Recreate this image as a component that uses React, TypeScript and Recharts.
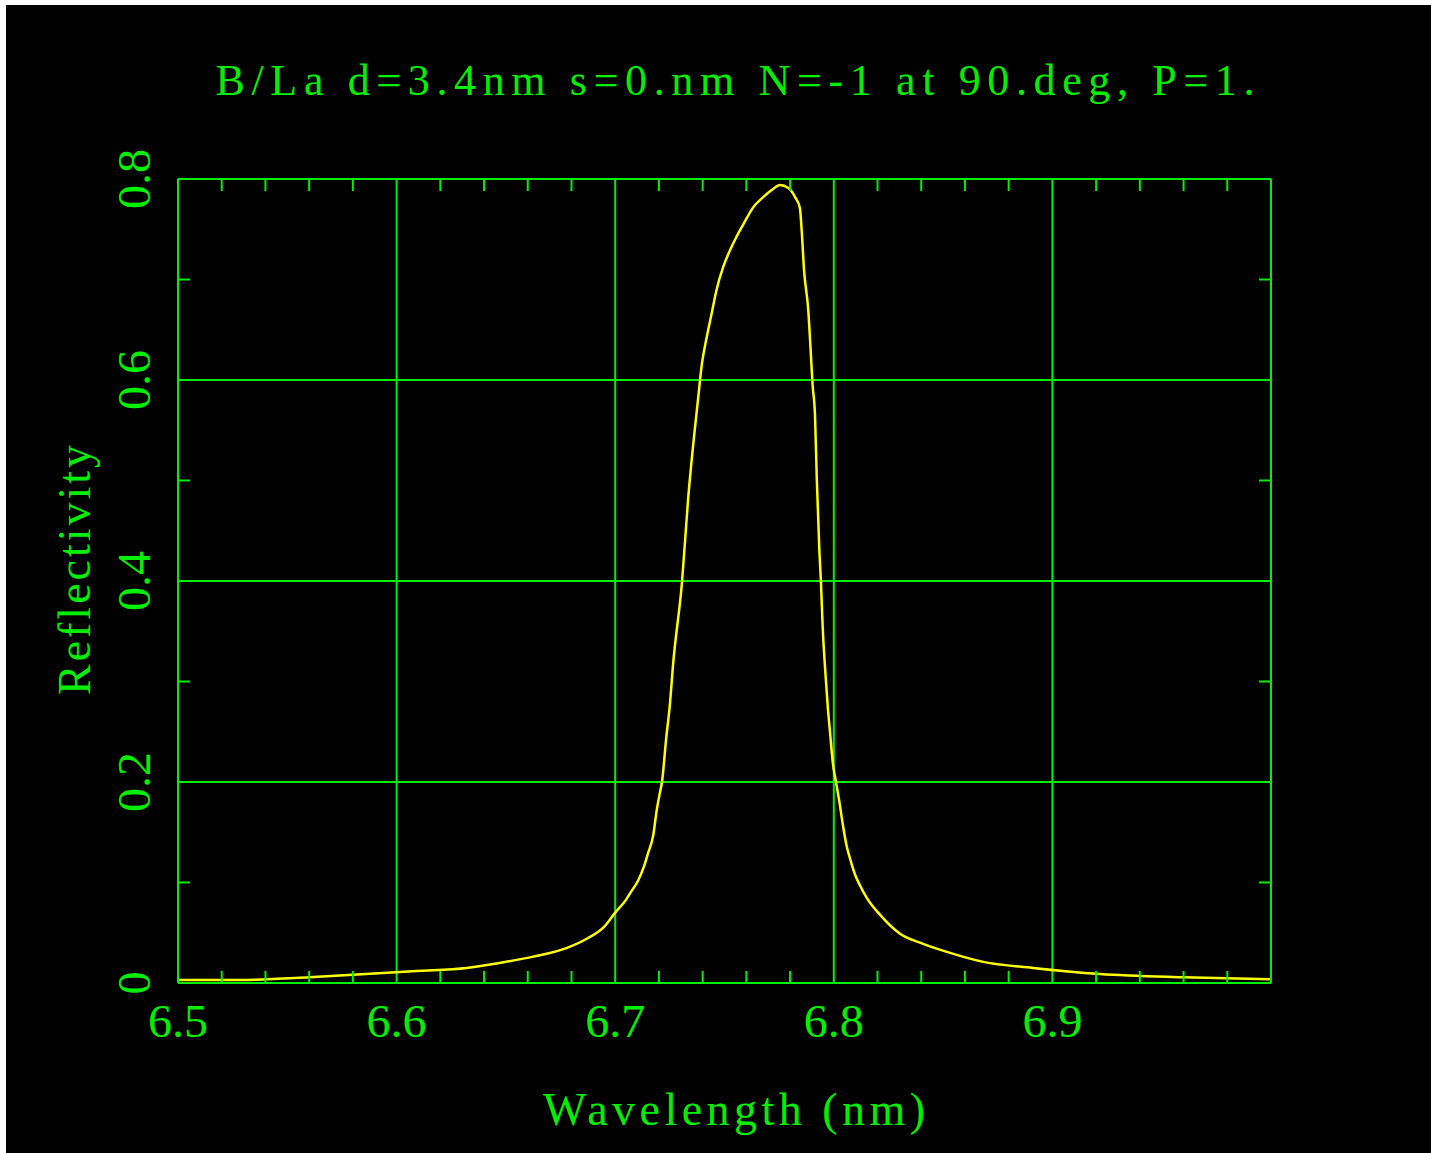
import { LineChart, Line, XAxis, YAxis, ReferenceLine } from 'recharts'

const GREEN = '#00f000'
const YELLOW = '#ffff00'
const FONT = '"Liberation Serif", "DejaVu Serif", serif'

// wavelength (nm)
const wavelength = [
  6.5, 6.528, 6.56, 6.586, 6.609, 6.632, 6.647, 6.662, 6.678, 6.687, 6.695, 6.7, 6.705, 6.707,
  6.7105, 6.713, 6.715, 6.7174, 6.719, 6.7205, 6.7214, 6.7233, 6.7251, 6.7264, 6.7306, 6.7333,
  6.738, 6.7396, 6.7419, 6.7441, 6.7464, 6.7495, 6.7525, 6.7556, 6.7594, 6.7632, 6.7677, 6.7716,
  6.7754, 6.7792, 6.7823, 6.7845, 6.7853, 6.7864, 6.7883, 6.7894, 6.7903, 6.7914, 6.7922, 6.7934,
  6.7941, 6.7949, 6.7963, 6.7972, 6.7983, 6.7995, 6.801, 6.8025, 6.8041, 6.8059, 6.8074, 6.8097,
  6.812, 6.815, 6.8211, 6.8303, 6.8409, 6.8532, 6.8684, 6.8911, 6.9218, 6.9597, 7.0,
]

const reflectivity = [
  0.003, 0.003, 0.0057, 0.009, 0.012, 0.015, 0.02, 0.026, 0.035, 0.044, 0.056, 0.07, 0.083, 0.09,
  0.102, 0.115, 0.129, 0.147, 0.172, 0.19, 0.2, 0.243, 0.279, 0.315, 0.4, 0.48,
  0.583, 0.615, 0.643, 0.666, 0.69, 0.713, 0.729, 0.743, 0.758, 0.772, 0.782, 0.789,
  0.794, 0.791, 0.782, 0.771, 0.749, 0.709, 0.67, 0.63, 0.595, 0.565, 0.503, 0.43,
  0.4, 0.355, 0.304, 0.276, 0.249, 0.22, 0.2, 0.181, 0.158, 0.136, 0.124, 0.108,
  0.097, 0.085, 0.068, 0.049, 0.039, 0.03, 0.021, 0.015, 0.009, 0.0057, 0.0037,
]

const xTicks = [
  6.5, 6.52, 6.54, 6.56, 6.58, 6.6, 6.62, 6.64, 6.66, 6.68, 6.7, 6.72, 6.74, 6.76, 6.78,
  6.8, 6.82, 6.84, 6.86, 6.88, 6.9, 6.92, 6.94, 6.96, 6.98, 7.0,
]
const xMajor = [6.5, 6.6, 6.7, 6.8, 6.9, 7.0]
const xLabels = ['6.5', '6.6', '6.7', '6.8', '6.9', '']
const xGrid = [6.6, 6.7, 6.8, 6.9]

const yTicks = [0, 0.1, 0.2, 0.3, 0.4, 0.5, 0.6, 0.7, 0.8]
const yMajor = [0, 0.2, 0.4, 0.6, 0.8]
const yLabels = ['0', '0.2', '0.4', '0.6', '0.8']
const yGrid = [0.2, 0.4, 0.6]

const title = 'B/La d=3.4nm s=0.nm N=-1  at 90.deg, P=1.'

const data = wavelength.map((w, i) => ({ w, r: reflectivity[i] }))

const majorIndex = (list: number[], v: number) => list.findIndex(m => Math.abs(m - v) < 1e-6)

const TICK = 12

const BottomTick = (props: any) => {
  const { x, y, payload } = props
  const i = majorIndex(xMajor, payload.value)
  if (i < 0) return <line x1={x} y1={y} x2={x} y2={y - TICK} stroke={GREEN} strokeWidth={2} />
  if (!xLabels[i]) return <g />
  return (
    <text x={x} y={y + 54} textAnchor="middle" fill={GREEN} fontSize={46} fontFamily={FONT}
      textLength={60} lengthAdjust="spacingAndGlyphs">
      {xLabels[i]}
    </text>
  )
}

const TopTick = (props: any) => {
  const { x, y, payload } = props
  if (majorIndex(xMajor, payload.value) >= 0) return <g />
  return <line x1={x} y1={y} x2={x} y2={y + TICK} stroke={GREEN} strokeWidth={2} />
}

const LeftTick = (props: any) => {
  const { x, y, payload } = props
  const i = majorIndex(yMajor, payload.value)
  if (i < 0) return <line x1={x} y1={y} x2={x + TICK} y2={y} stroke={GREEN} strokeWidth={2} />
  const lx = x - 28
  const label = yLabels[i]
  return (
    <text x={lx} y={y} transform={`rotate(-90, ${lx}, ${y})`} textAnchor="middle" fill={GREEN}
      fontSize={46} fontFamily={FONT}
      {...(label.length > 1 ? { textLength: 60, lengthAdjust: 'spacingAndGlyphs' } : {})}>
      {label}
    </text>
  )
}

const RightTick = (props: any) => {
  const { x, y, payload } = props
  if (majorIndex(yMajor, payload.value) >= 0) return <g />
  return <line x1={x} y1={y} x2={x - TICK} y2={y} stroke={GREEN} strokeWidth={2} />
}

export default function App() {
  return (
    <div style={{ position: 'absolute', left: 0, top: 0, width: 1431, height: 1153, background: '#fff' }}>
      <div style={{ position: 'absolute', left: 6, top: 5, right: 0, bottom: 0, background: '#000' }} />
      <div style={{ position: 'absolute', left: 0, top: 0 }}>
        <LineChart width={1431} height={1153} data={data}
          margin={{ top: 169, right: 150, bottom: 160, left: 168 }}>
          <XAxis xAxisId="b" dataKey="w" type="number" domain={[6.5, 7.0]} ticks={xTicks}
            interval={0} height={10} tickSize={0} tickMargin={0} tickLine={false}
            axisLine={{ stroke: GREEN, strokeWidth: 2 }} tick={BottomTick} allowDataOverflow />
          <XAxis xAxisId="t" orientation="top" dataKey="w" type="number" domain={[6.5, 7.0]}
            ticks={xTicks} interval={0} height={10} tickSize={0} tickMargin={0} tickLine={false}
            axisLine={{ stroke: GREEN, strokeWidth: 2 }} tick={TopTick} allowDataOverflow />
          <YAxis yAxisId="l" type="number" domain={[0, 0.8]} ticks={yTicks} interval={0}
            width={10} tickSize={0} tickMargin={0} tickLine={false}
            axisLine={{ stroke: GREEN, strokeWidth: 2 }} tick={LeftTick} allowDataOverflow />
          <YAxis yAxisId="r" orientation="right" type="number" domain={[0, 0.8]} ticks={yTicks}
            interval={0} width={10} tickSize={0} tickMargin={0} tickLine={false}
            axisLine={{ stroke: GREEN, strokeWidth: 2 }} tick={RightTick} allowDataOverflow />
          {xGrid.map(v => (
            <ReferenceLine key={'x' + v} x={v} xAxisId="b" yAxisId="l" stroke={GREEN} strokeWidth={2} />
          ))}
          {yGrid.map(v => (
            <ReferenceLine key={'y' + v} y={v} xAxisId="b" yAxisId="l" stroke={GREEN} strokeWidth={2} />
          ))}
          <Line xAxisId="b" yAxisId="l" type="monotone" dataKey="r" stroke={YELLOW} strokeWidth={2.5}
            dot={false} activeDot={false} isAnimationActive={false} />
        </LineChart>
      </div>
      <svg width={1431} height={1153} style={{ position: 'absolute', left: 0, top: 0, pointerEvents: 'none' }}>
        <text x={735} y={95} textAnchor="middle" fill={GREEN} fontSize={44} fontFamily={FONT}
          textLength={1039} lengthAdjust="spacing">
          {title}
        </text>
        <text x={734} y={1125} textAnchor="middle" fill={GREEN} fontSize={46} fontFamily={FONT}
          textLength={382} lengthAdjust="spacing">
          Wavelength (nm)
        </text>
        <text x={90} y={570} transform="rotate(-90, 90, 570)" textAnchor="middle" fill={GREEN}
          fontSize={46} fontFamily={FONT} textLength={250} lengthAdjust="spacing">
          Reflectivity
        </text>
      </svg>
    </div>
  )
}
